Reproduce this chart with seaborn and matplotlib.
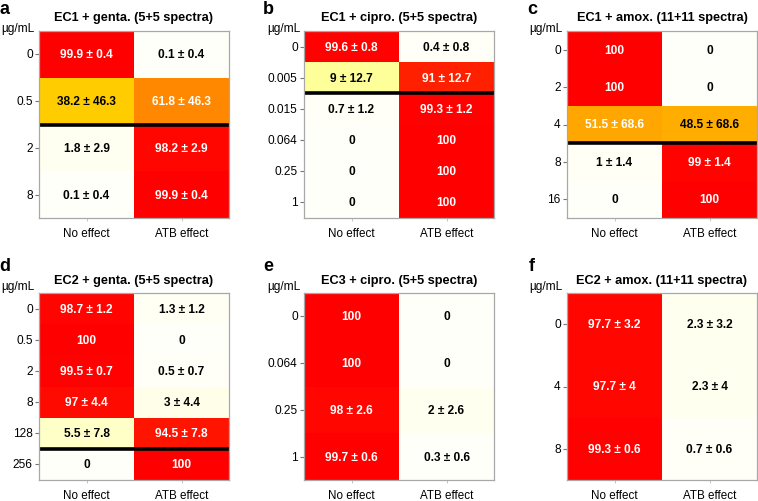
import numpy as np
import pandas as pd
import matplotlib
matplotlib.use("Agg")
import matplotlib.pyplot as plt
from matplotlib.colors import LinearSegmentedColormap
import seaborn as sns

# --- data (percent of spectra classified) ---
conc_a = ["0", "0.5", "2", "8"]
no_a = [99.9, 38.2, 1.8, 0.1]
atb_a = [0.1, 61.8, 98.2, 99.9]
sd_a = [0.4, 46.3, 2.9, 0.4]

conc_b = ["0", "0.005", "0.015", "0.064", "0.25", "1"]
no_b = [99.6, 9, 0.7, 0, 0, 0]
atb_b = [0.4, 91, 99.3, 100, 100, 100]
sd_b = [0.8, 12.7, 1.2, 0, 0, 0]

conc_c = ["0", "2", "4", "8", "16"]
no_c = [100, 100, 51.5, 1, 0]
atb_c = [0, 0, 48.5, 99, 100]
sd_c = [0, 0, 68.6, 1.4, 0]

conc_d = ["0", "0.5", "2", "8", "128", "256"]
no_d = [98.7, 100, 99.5, 97, 5.5, 0]
atb_d = [1.3, 0, 0.5, 3, 94.5, 100]
sd_d = [1.2, 0, 0.7, 4.4, 7.8, 0]

conc_e = ["0", "0.064", "0.25", "1"]
no_e = [100, 100, 98, 99.7]
atb_e = [0, 0, 2, 0.3]
sd_e = [0, 0, 2.6, 0.6]

conc_f = ["0", "4", "8"]
no_f = [97.7, 97.7, 99.3]
atb_f = [2.3, 2.3, 0.7]
sd_f = [3.2, 4, 0.6]

titles = ["EC1 + genta. (5+5 spectra)", "EC1 + cipro. (5+5 spectra)",
          "EC1 + amox. (11+11 spectra)", "EC2 + genta. (5+5 spectra)",
          "EC3 + cipro. (5+5 spectra)", "EC2 + amox. (11+11 spectra)"]
letters = ["a", "b", "c", "d", "e", "f"]
# row after which the MIC line is drawn (None = no line)
mic_rows = [2, 2, 3, 5, None, None]
columns = ["No effect", "ATB effect"]

panels = [
    (conc_a, no_a, atb_a, sd_a),
    (conc_b, no_b, atb_b, sd_b),
    (conc_c, no_c, atb_c, sd_c),
    (conc_d, no_d, atb_d, sd_d),
    (conc_e, no_e, atb_e, sd_e),
    (conc_f, no_f, atb_f, sd_f),
]

# heat-like palette: cream -> yellow -> orange -> red
heat = LinearSegmentedColormap.from_list("heat", [
    (0.00, "#FFFFF9"), (0.015, "#FFFFF1"), (0.025, "#FFFFEC"),
    (0.032, "#FFFFE4"), (0.055, "#FFFFC8"), (0.09, "#FFFF99"),
    (0.22, "#FFEE22"), (0.38, "#FFCC00"), (0.50, "#FFAA00"),
    (0.62, "#FF8800"), (0.91, "#FF2000"), (1.00, "#FF0000")])

plt.rcParams["font.family"] = ["Liberation Sans", "DejaVu Sans"]

W, H = 758, 502
fig = plt.figure(figsize=(W / 100, H / 100), dpi=100)


def fx(px):
    return px / W


def fy(py):
    return 1 - py / H


lefts = [39, 304, 567]
row_top = [32, 294]
row_bot = [219, 481]
title_y = [18, 281]
unit_y = [29, 287]
letter_y = [9, 267]
letter_x = [5, 268, 532]


def fmt(v):
    return f"{v:g}"


for i, (conc, no, atb, sd) in enumerate(panels):
    r, c = divmod(i, 3)
    left, top, bot = lefts[c], row_top[r], row_bot[r]
    ax = fig.add_axes([fx(left), fy(bot), fx(190), (bot - top) / H])

    df = pd.DataFrame({columns[0]: no, columns[1]: atb}, index=conc)
    labels = np.array([[fmt(a) if s == 0 else f"{fmt(a)} \u00b1 {fmt(s)}",
                        fmt(b) if s == 0 else f"{fmt(b)} \u00b1 {fmt(s)}"]
                       for a, b, s in zip(no, atb, sd)])
    sns.heatmap(df, cmap=heat, vmin=0, vmax=100, annot=labels, fmt="",
                cbar=False, ax=ax,
                annot_kws={"fontsize": 8.6, "fontweight": "bold"})

    # white text on the dark side, black on the pale side
    vals = df.values.ravel()
    for txt, v in zip(ax.texts, vals):
        txt.set_color("white" if v > 50 else "black")

    if mic_rows[i] is not None:
        ax.axhline(mic_rows[i], color="black", lw=2.6)

    for sp in ax.spines.values():
        sp.set_visible(True)
        sp.set_color("#A8A8A8")
        sp.set_linewidth(0.9)

    ax.set_xlabel("")
    ax.set_ylabel("")
    ax.tick_params(axis="y", length=3, width=0.8, color="#777777",
                   pad=1.5, labelsize=8.6, rotation=0)
    ax.tick_params(axis="x", length=2, width=0.6, color="#BBBBBB",
                   pad=4.5, labelsize=8.4)

    fig.text(fx(left + 95), fy(title_y[r]), titles[i], ha="center",
             va="center", fontsize=9.2, fontweight="bold")
    fig.text(fx(left - 4), fy(unit_y[r]), "\u00b5g/mL", ha="right",
             va="center", fontsize=8.6)
    fig.text(fx(letter_x[c]), fy(letter_y[r]), letters[i], ha="center",
             va="center", fontsize=13, fontweight="bold")

fig.savefig("out.png", dpi=100)
